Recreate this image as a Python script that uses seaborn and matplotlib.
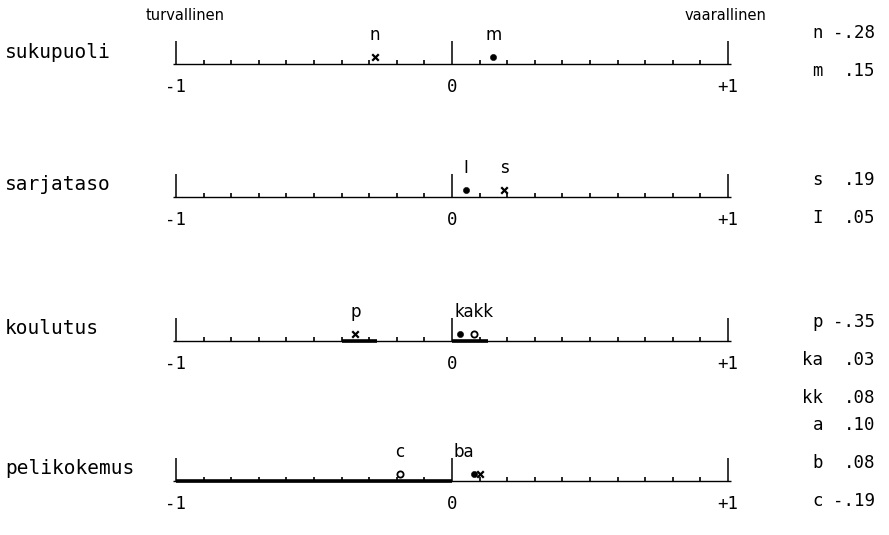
import matplotlib

matplotlib.use("Agg")
import matplotlib.pyplot as plt
import numpy as np
import pandas as pd
import seaborn as sns


CATEGORIES = ["sukupuoli", "sarjataso", "koulutus", "pelikokemus"]
POINT_KEYS = [["n", "m"], ["s", "I"], ["p", "ka", "kk"], ["a", "b", "c"]]
POINT_VALUES = [[-0.28, 0.15], [0.19, 0.05], [-0.35, 0.03, 0.08], [0.10, 0.08, -0.19]]
POINT_KINDS = [
    ["cross", "dot"],
    ["cross", "dot"],
    ["cross", "dot", "open"],
    ["cross", "dot", "open"],
]
# text above the marks: (label, key it sits on, alignment)
POINT_LABELS = [
    [("n", "n", "center"), ("m", "m", "center")],
    [("I", "I", "center"), ("s", "s", "center")],
    [("p", "p", "center"), ("kakk", "kk", "center")],
    [("c", "c", "center"), ("ba", "b", "right")],
]
THICK_SEGMENTS = [[], [], [(-0.40, -0.27), (0.0, 0.13)], [(-1.0, 0.0)]]
SCALE_TICKS = [-1, 0, 1]
SCALE_TICK_LABELS = ["-1", "0", "+1"]
END_LABELS = ["turvallinen", "vaarallinen"]

# layout in pixel rows (y axis runs 0..535 top to bottom)
ROW_Y = [64, 197, 341, 481]
LIST_TOP = [33, 180, 322, 425]
LIST_STEP = 38
W, H = 889, 535
X_LEFT, X_RIGHT = 176, 728


def px2x(px):
    return (px - X_LEFT) / (X_RIGHT - X_LEFT) * 2 - 1


def fmt(v):
    return f"{v:.2f}".replace("0.", ".")


def draw():
    sns.set_style("white")
    plt.rcParams["font.family"] = ["DejaVu Sans"]
    plt.rcParams["text.color"] = "black"
    mono = "DejaVu Sans Mono"

    fig = plt.figure(figsize=(W / 100, H / 100), dpi=100)
    ax = fig.add_axes([X_LEFT / W, 0, (X_RIGHT - X_LEFT) / W, 1])

    rows = []
    for cat, keys, vals, kinds, base in zip(
        CATEGORIES, POINT_KEYS, POINT_VALUES, POINT_KINDS, ROW_Y
    ):
        for k, v, kind in zip(keys, vals, kinds):
            rows.append({"category": cat, "key": k, "value": v, "kind": kind, "y": base - 7})
    df = pd.DataFrame(rows)

    minor = np.round(np.arange(-0.9, 0.95, 0.1), 2)
    minor = minor[np.abs(minor) > 0.01]

    for i, (cat, base) in enumerate(zip(CATEGORIES, ROW_Y)):
        ax.hlines(base, -1.01, 1.01, color="black", lw=1.0, clip_on=False)
        for a, b in THICK_SEGMENTS[i]:
            ax.hlines(base, a, b, color="black", lw=2.6, clip_on=False)
        ax.vlines(SCALE_TICKS, base - 23, base, color="black", lw=1.1, clip_on=False)
        ax.vlines(minor, base - 4, base, color="black", lw=1.2)
        for t, lab in zip(SCALE_TICKS, SCALE_TICK_LABELS):
            ax.text(t, base + 23, lab, ha="center", va="center", fontsize=12.5,
                    family=mono, clip_on=False)
        ax.text(px2x(5), base - 12, cat, ha="left", va="center", fontsize=14,
                family=mono, clip_on=False)

        # labels above the marks
        lookup = dict(zip(POINT_KEYS[i], POINT_VALUES[i]))
        for text, key, align in POINT_LABELS[i]:
            ax.text(lookup[key], base - 29, text, ha=align, va="center",
                    fontsize=12)

        # value list on the right
        for j, (k, v) in enumerate(zip(POINT_KEYS[i], POINT_VALUES[i])):
            yy = LIST_TOP[i] + j * LIST_STEP
            ax.text(px2x(823), yy, k, ha="right", va="center", fontsize=12.5,
                    family=mono, clip_on=False)
            ax.text(px2x(875), yy, fmt(v), ha="right", va="center", fontsize=12.5,
                    family=mono, clip_on=False)

    sns.scatterplot(data=df[df["kind"] == "cross"], x="value", y="y", marker="x",
                    s=22, color="black", linewidth=1.6, ax=ax, legend=False)
    sns.scatterplot(data=df[df["kind"] == "dot"], x="value", y="y", marker="o",
                    s=20, color="black", edgecolor="black", ax=ax, legend=False)
    sns.scatterplot(data=df[df["kind"] == "open"], x="value", y="y", marker="o",
                    s=20, facecolor="white", edgecolor="black", linewidth=1.3,
                    ax=ax, legend=False)
    ax.set_xlim(-1, 1)
    ax.set_ylim(H, 0)
    ax.axis("off")

    ax.text(px2x(185), 15, END_LABELS[0], ha="center", va="center", fontsize=10.5)
    ax.text(px2x(725), 15, END_LABELS[1], ha="center", va="center", fontsize=10.5,
            clip_on=False)

    fig.savefig("out.png", dpi=100)


if __name__ == "__main__":
    draw()
